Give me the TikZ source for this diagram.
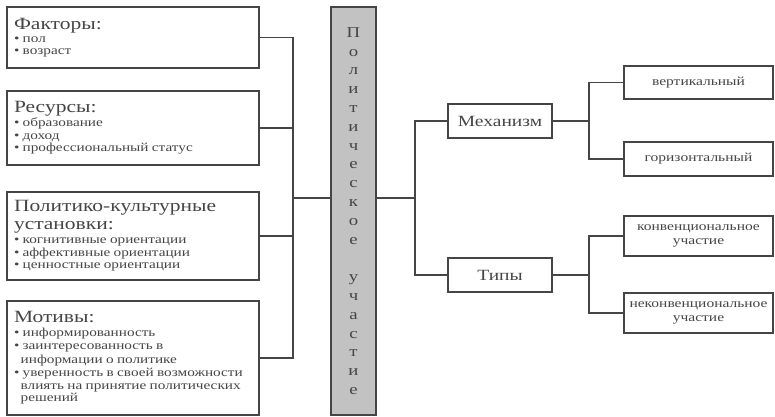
\documentclass[tikz,border=0pt]{standalone}
\usepackage{fontspec}
\setmainfont[FakeStretch=1.25]{Liberation Serif}
\definecolor{ink}{HTML}{454545}
\definecolor{pillar}{HTML}{C2C2C2}
\newcommand{\hd}{\fontsize{17.2}{18}\selectfont}
\newcommand{\sm}{\fontsize{12.2}{13.4}\selectfont}
\newcommand{\bul}{\textbullet\ }

\begin{document}
\begin{tikzpicture}[x=1pt, y=-1pt,
	box/.style={draw=ink, line width=1.2pt, text=ink, inner sep=0pt},
	lbox/.style={box, minimum width=252pt, align=left, text width=238pt},
	rbox/.style={box, minimum width=149pt, align=center, font=\fontsize{12.4}{14}\selectfont},
	mbox/.style={box, minimum width=104pt, minimum height=34pt, font=\fontsize{15.6}{18}\selectfont},
	wire/.style={draw=ink, line width=1.2pt}]
		\useasboundingbox (0,0) rectangle (775,416);
		%left
		\node[lbox, minimum height=61pt] (fakt) at (133,37.5) {\hd Факторы:\\ \sm\bul пол\\ \bul возраст};
		\node[lbox, minimum height=74pt] (res) at (133,128) {\hd Ресурсы:\\ \sm\bul образование\\ \bul доход\\ \bul профессиональный статус};
		\node[lbox, minimum height=88pt] (ust) at (133,236) {\hd Политико-культурные\\ установки:\\ \sm\bul когнитивные ориентации\\ \bul аффективные ориентации\\ \bul ценностные ориентации};
		\node[lbox, minimum height=114pt] (mot) at (133,358) {\hd Мотивы:\\ \sm\bul информированность\\ \bul заинтересованность в\\ \hspace*{0.55em}информации о политике\\ \bul уверенность в своей возможности\\ \hspace*{0.55em}влиять на принятие политических\\ \hspace*{0.55em}решений};
		%middle
		\node[box, fill=pillar, minimum width=45pt, minimum height=408pt, align=center, font=\fontsize{15}{18.8}\selectfont] (pol) at (353.5,211)
			{П\\о\\л\\и\\т\\и\\ч\\е\\с\\к\\о\\е\\ ~ \\у\\ч\\а\\с\\т\\и\\е};
		%right
		\node[mbox] (mech) at (500,121) {Механизм};
		\node[mbox] (tip) at (500,275) {Типы};
		\node[rbox, minimum height=33pt] (vert) at (698.5,82.5) {вертикальный};
		\node[rbox, minimum height=34pt] (gor) at (698.5,159) {горизонтальный};
		\node[rbox, minimum height=40pt] (konv) at (698.5,236) {конвенциональное\\участие};
		\node[rbox, minimum height=40pt] (nekonv) at (698.5,313) {неконвенциональное\\участие};
		%joints
		\coordinate (lj) at (293,198);
		\coordinate (rj) at (415,198);
		\coordinate (mj) at (589,121);
		\coordinate (tj) at (589,275);
		\draw[wire] (fakt.east) -| (lj);
		\draw[wire] (res.east) -| (lj);
		\draw[wire] (ust.east) -| (lj);
		\draw[wire] (mot.east) -| (lj);
		\draw[wire] (lj) -- (lj -| pol.west);
		\draw[wire] (rj -| pol.east) -- (rj);
		\draw[wire] (rj) |- (mech.west); \draw[wire] (rj) |- (tip.west);
		\draw[wire] (mech.east) -- (mj); \draw[wire] (tip.east) -- (tj);
		\draw[wire] (mj) |- (vert.west); \draw[wire] (mj) |- (gor.west);
		\draw[wire] (tj) |- (konv.west); \draw[wire] (tj) |- (nekonv.west);
\end{tikzpicture}
\end{document}
